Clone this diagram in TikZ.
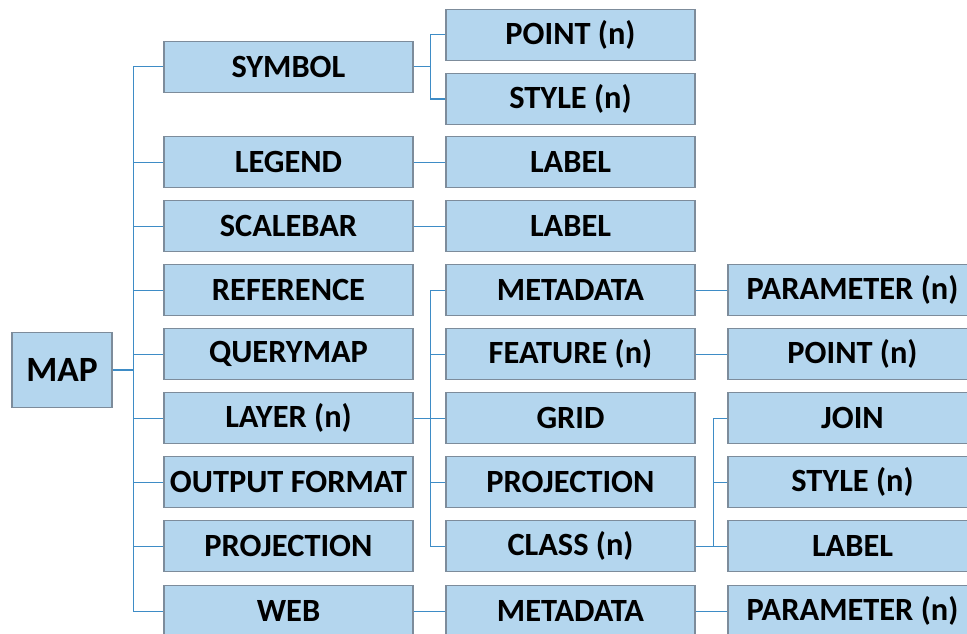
\documentclass[tikz,border=0pt]{standalone}
\usepackage{fontspec}
\setmainfont{Carlito}
\definecolor{boxfill}{HTML}{B4D6EE}
\definecolor{boxline}{HTML}{7D8C9B}
\definecolor{linkblue}{HTML}{3E8CC6}
\begin{document}
\begin{tikzpicture}[x=1pt,y=-1pt,
  item/.style={draw=boxline, line width=1.2pt, fill=boxfill, minimum width=249pt,
    minimum height=51pt, inner sep=0pt, font=\fontsize{32.4}{36}\selectfont\bfseries},
  root/.style={item, minimum width=100pt, minimum height=75pt, font=\fontsize{35.5}{40}\selectfont\bfseries},
  link/.style={draw=linkblue, line width=1pt},
]
\clip (0,0) rectangle (967,634);
\fill[white] (0,0) rectangle (967,634);

% root
\node[root] (map) at (62,370) {MAP};

% first level
\node[item] (symbol) at (288.5,67) {SYMBOL};
\node[item] (legend) at (288.5,162) {LEGEND};
\node[item] (scalebar) at (288.5,226) {SCALEBAR};
\node[item] (reference) at (288.5,290) {REFERENCE};
\node[item] (querymap) at (288.5,354) {QUERYMAP};
\node[item] (layer) at (288.5,418) {LAYER (n)};
\node[item] (output) at (288.5,482) {OUTPUT FORMAT};
\node[item] (projection) at (288.5,546) {PROJECTION};
\node[item] (web) at (288.5,611) {WEB};

% second level
\node[item] (point) at (570.5,35) {POINT (n)};
\node[item] (style) at (570.5,99) {STYLE (n)};
\node[item] (leglabel) at (570.5,162) {LABEL};
\node[item] (sclabel) at (570.5,226) {LABEL};
\node[item] (metadata) at (570.5,290) {METADATA};
\node[item] (feature) at (570.5,354) {FEATURE (n)};
\node[item] (grid) at (570.5,418) {GRID};
\node[item] (lproj) at (570.5,482) {PROJECTION};
\node[item] (class) at (570.5,546) {CLASS (n)};
\node[item] (webmeta) at (570.5,611) {METADATA};

% third level
\node[item] (param) at (852.5,290) {PARAMETER (n)};
\node[item] (fpoint) at (852.5,354) {POINT (n)};
\node[item] (join) at (852.5,418) {JOIN};
\node[item] (cstyle) at (852.5,482) {STYLE (n)};
\node[item] (clabel) at (852.5,546) {LABEL};
\node[item] (webparam) at (852.5,611) {PARAMETER (n)};

% bus coordinates
\coordinate (mapbus) at (133,370);
\coordinate (symbus) at (430,67);
\coordinate (laybus) at (430,418);
\coordinate (clsbus) at (713,546);

% MAP to first level
\draw[link, line width=1.8pt] (map.east) -- (mapbus);
\draw[link] (mapbus |- symbol.west) -- (mapbus |- web.west);
\foreach \n in {symbol,legend,scalebar,reference,querymap,layer,output,projection,web}
  \draw[link] (mapbus |- \n.west) -- (\n.west);

% SYMBOL branch
\draw[link] (symbol.east) -- (symbus);
\draw[link] (symbus |- point.west) -- (symbus |- style.west);
\foreach \n in {point,style}
  \draw[link] (symbus |- \n.west) -- (\n.west);

% single links
\draw[link] (legend) -- (leglabel);
\draw[link] (scalebar) -- (sclabel);
\draw[link] (metadata) -- (param);
\draw[link] (feature) -- (fpoint);
\draw[link] (web) -- (webmeta);
\draw[link] (webmeta) -- (webparam);

% LAYER branch
\draw[link] (layer.east) -- (laybus);
\draw[link] (laybus |- metadata.west) -- (laybus |- class.west);
\foreach \n in {metadata,feature,grid,lproj,class}
  \draw[link] (laybus |- \n.west) -- (\n.west);

% CLASS branch
\draw[link] (class.east) -- (clsbus);
\draw[link] (clsbus |- join.west) -- (clsbus |- clabel.west);
\foreach \n in {join,cstyle,clabel}
  \draw[link] (clsbus |- \n.west) -- (\n.west);
\end{tikzpicture}
\end{document}
